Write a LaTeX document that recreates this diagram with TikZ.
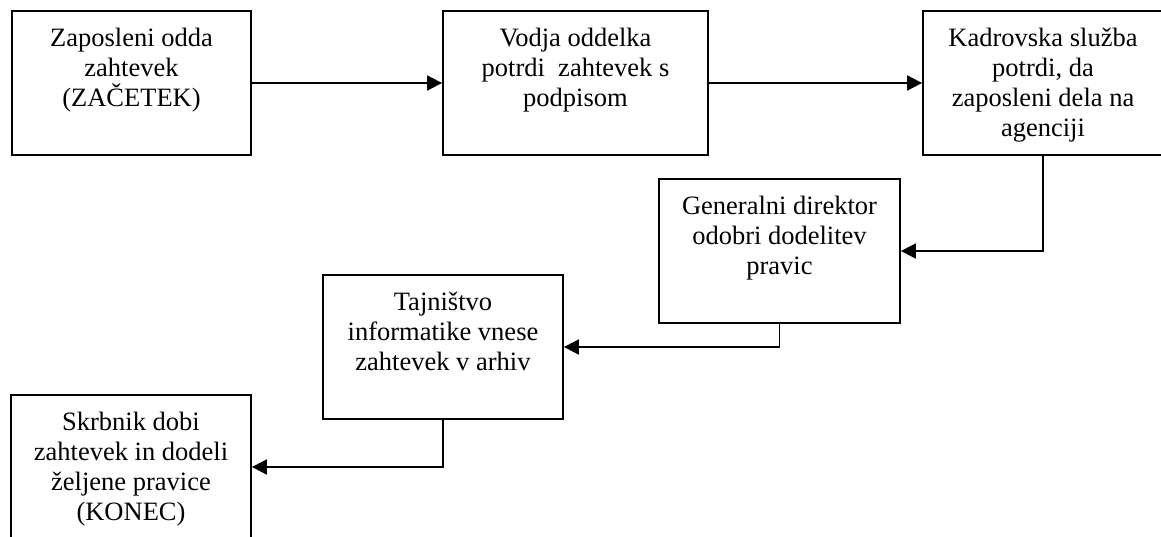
\documentclass[tikz,border=0pt]{standalone}
\usepackage{fontspec}
\setmainfont{Liberation Serif}
\usetikzlibrary{arrows.meta,calc}
\begin{document}
\begin{tikzpicture}[x=1pt,y=-1pt,
  box/.style={draw=black,line width=1.8pt,rectangle,inner sep=0pt,minimum height=144pt},
  txt/.style={anchor=north,align=center,inner sep=0pt,font=\fontsize{26.5}{30}\selectfont},
  conn/.style={line width=1.8pt,-{Triangle[length=15pt,width=15pt]}}]
\useasboundingbox (0,0) rectangle (1161,536);
\clip (0,0) rectangle (1161,536);
\node[box,minimum width=239pt] (b1) at (131.5,83) {};
\node[box,minimum width=265pt] (b2) at (575.5,83) {};
\node[box,minimum width=240pt] (b3) at (1043,83) {};
\node[box,minimum width=241pt] (b4) at (779.5,251) {};
\node[box,minimum width=240pt] (b5) at (443,347) {};
\node[box,minimum width=240pt] (b6) at (131,467) {};
\node[txt] (t1) at ($(b1.north)+(0,17.7)$) {Zaposleni odda\\zahtevek\\(ZAČETEK)};
\node[txt] (t2) at ($(b2.north)+(0,17.7)$) {Vodja oddelka\\potrdi~ zahtevek s\\podpisom};
\node[txt] (t3) at ($(b3.north)+(0,17.7)$) {Kadrovska služba\\potrdi, da\\zaposleni dela na\\agenciji};
\node[txt] (t4) at ($(b4.north)+(0,17.7)$) {Generalni direktor\\odobri dodelitev\\pravic};
\node[txt] (t5) at ($(b5.north)+(0,17.7)$) {Tajništvo\\informatike vnese\\zahtevek v arhiv};
\node[txt] (t6) at ($(b6.north)+(0,17.7)$) {Skrbnik dobi\\zahtevek in dodeli\\željene pravice\\(KONEC)};
\draw[conn] (b1.east) -- (b2.west);
\draw[conn] (b2.east) -- (b3.west);
\draw[conn] (b3.south) |- (b4.east);
\draw[conn] (b4.south) |- (b5.east);
\draw[conn] (b5.south) |- (b6.east);
\end{tikzpicture}
\end{document}
